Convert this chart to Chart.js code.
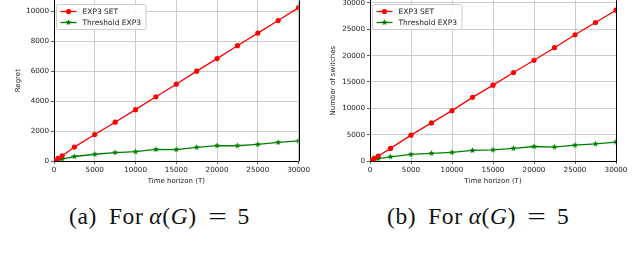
<!DOCTYPE html>
<html>
<head>
<meta charset="utf-8">
<script src="https://cdn.jsdelivr.net/npm/chart.js@4.4.0/dist/chart.umd.min.js"></script>
<style>
  body { margin: 0; background: #fff; width: 640px; height: 265px; overflow: hidden; position: relative; }
  .box { position: absolute; top: -6px; height: 196px; }
  #boxA { left: 0; width: 312px; }
  #boxB { left: 318px; width: 322px; }
  .cap { position: absolute; top: 203px; font-family: "Liberation Serif", "DejaVu Serif", serif; font-size: 23.5px; color: #111; white-space: nowrap; letter-spacing: 0.6px; }
  .cap i { font-style: italic; }
  .eq { display: inline-block; transform: scaleX(1.4); margin: 0 4px; }
  .g1 { margin-left: 12px; } .g2 { margin-left: 6px; } .g3 { margin-left: 10px; } .g4 { margin-left: 9px; }
</style>
</head>
<body>
<div class="box" id="boxA"><canvas id="chartA"></canvas></div>
<div class="box" id="boxB"><canvas id="chartB"></canvas></div>
<div class="cap" style="left:69px">(a)<span class="g1">For</span><span class="g2"><i>α</i>(<i>G</i>)</span><span class="g3"><span class="eq">=</span></span><span class="g4">5</span></div>
<div class="cap" style="left:387px">(b)<span class="g1">For</span><span class="g2"><i>α</i>(<i>G</i>)</span><span class="g3"><span class="eq">=</span></span><span class="g4">5</span></div>

<script>
// time horizons (T) where the runs were measured
const horizon = [100, 500, 1000, 2500, 5000, 7500, 10000, 12500, 15000, 17500, 20000, 22500, 25000, 27500, 30000];

// (a) regret
const regretSet = [35, 170, 340, 930, 1770, 2590, 3430, 4290, 5130, 6000, 6840, 7700, 8540, 9380, 10240];
const regretThr = [20, 80, 130, 300, 450, 560, 620, 770, 760, 910, 1020, 1020, 1110, 1240, 1340];

// (b) number of switches
const switchSet = [95, 480, 950, 2390, 4910, 7230, 9560, 12080, 14400, 16790, 19120, 21510, 23960, 26290, 28620];
const switchThr = [50, 250, 450, 800, 1250, 1450, 1630, 2000, 2100, 2400, 2750, 2650, 3000, 3250, 3600];

const xTicks = [0, 5000, 10000, 15000, 20000, 25000, 30000];
const yTicksA = [0, 2000, 4000, 6000, 8000, 10000];
const yTicksB = [0, 5000, 10000, 15000, 20000, 25000, 30000];

const seriesNames = ['EXP3 SET', 'Threshold EXP3'];

// filled star marker (matplotlib '*')
function starMarker(color, r) {
  const c = document.createElement('canvas');
  const s = Math.ceil(r * 2 + 2);
  c.width = s; c.height = s;
  const g = c.getContext('2d');
  g.fillStyle = color;
  g.beginPath();
  for (let i = 0; i < 10; i++) {
    const rad = i % 2 === 0 ? r : r * 0.45;
    const a = -Math.PI / 2 + i * Math.PI / 5;
    const px = s / 2 + rad * Math.cos(a), py = s / 2 + rad * Math.sin(a);
    i === 0 ? g.moveTo(px, py) : g.lineTo(px, py);
  }
  g.closePath();
  g.fill();
  return c;
}
const greenStar = starMarker('#008000', 3.2);

const pts = vals => horizon.map((t, i) => ({ x: t, y: vals[i] }));

// right spine + matplotlib style legend box
const framePlugin = {
  id: 'frame',
  afterDatasetsDraw(chart) {
    const { ctx, chartArea: a } = chart;
    ctx.save();
    ctx.strokeStyle = '#000';
    ctx.lineWidth = 1;
    ctx.beginPath();
    ctx.moveTo(Math.round(a.right) + 0.5, a.top);
    ctx.lineTo(Math.round(a.right) + 0.5, a.bottom);
    ctx.stroke();

    ctx.font = '7.5px "DejaVu Sans"';
    const tw = Math.max(...seriesNames.map(n => ctx.measureText(n).width));
    const bx = a.left + 2.5, by = 6 + 4.5, bw = 26 + tw + 5, bh = 25;
    ctx.fillStyle = 'rgba(255,255,255,0.85)';
    ctx.strokeStyle = '#cccccc';
    ctx.beginPath();
    ctx.roundRect(bx, by, bw, bh, 2);
    ctx.fill();
    ctx.stroke();

    chart.data.datasets.forEach((ds, i) => {
      const y = by + 7 + i * 11;
      ctx.strokeStyle = ds.borderColor;
      ctx.lineWidth = 1.3;
      ctx.beginPath();
      ctx.moveTo(bx + 4, y);
      ctx.lineTo(bx + 20, y);
      ctx.stroke();
      if (i === 0) {
        ctx.fillStyle = ds.borderColor;
        ctx.beginPath();
        ctx.arc(bx + 12, y, 2.6, 0, Math.PI * 2);
        ctx.fill();
      } else {
        ctx.drawImage(greenStar, bx + 12 - greenStar.width / 2, y - greenStar.height / 2);
      }
      ctx.fillStyle = '#222';
      ctx.textBaseline = 'middle';
      ctx.fillText(ds.label, bx + 26, y + 0.5);
    });
    ctx.restore();
  }
};

function makeChart(id, setVals, thrVals, yMax, yTicks, yTitle, padLeft, yWidth, padRight) {
  const tickFont = { family: 'DejaVu Sans', size: 7.2 };
  const titleFont = { family: 'DejaVu Sans', size: 7 };
  return new Chart(document.getElementById(id), {
    type: 'line',
    data: {
      datasets: [
        {
          label: seriesNames[0], data: pts(setVals),
          borderColor: '#ff0000', backgroundColor: '#ff0000',
          borderWidth: 1.3, pointRadius: 2.6, pointStyle: 'circle',
          pointBorderWidth: 0
        },
        {
          label: seriesNames[1], data: pts(thrVals),
          borderColor: '#008000', backgroundColor: '#008000',
          borderWidth: 1.3, pointStyle: greenStar, pointRadius: 3
        }
      ]
    },
    options: {
      responsive: true,
      maintainAspectRatio: false,
      animation: false,
      layout: { padding: { top: 0, right: padRight, left: padLeft, bottom: 5 } },
      plugins: { legend: { display: false }, tooltip: { enabled: false } },
      scales: {
        x: {
          type: 'linear', min: 0, max: 30000,
          afterBuildTicks: s => { s.ticks = xTicks.map(v => ({ value: v })); },
          afterFit: s => { s.height = 24; },
          ticks: { font: tickFont, color: '#222', padding: 2, maxRotation: 0, callback: v => String(v) },
          grid: { color: '#c0c0c0', lineWidth: 0.8, tickLength: 3, tickColor: '#333' },
          border: { color: '#000', width: 1 },
          title: { display: true, text: 'Time horizon (T)', font: titleFont, color: '#222', padding: { top: 1, bottom: 0 } }
        },
        y: {
          min: 0, max: yMax,
          afterBuildTicks: s => { s.ticks = yTicks.map(v => ({ value: v })); },
          afterFit: s => { s.width = yWidth; },
          ticks: { font: tickFont, color: '#222', padding: 2, callback: v => String(v) },
          grid: { color: '#c0c0c0', lineWidth: 0.8, tickLength: 3, tickColor: '#333' },
          border: { color: '#000', width: 1 },
          title: { display: true, text: yTitle, font: titleFont, color: '#222', padding: { top: 0, bottom: 2 } }
        }
      }
    },
    plugins: [framePlugin]
  });
}

makeChart('chartA', regretSet, regretThr, 10730, yTicksA, 'Regret', 14, 40, 13);
makeChart('chartB', switchSet, switchThr, 30500, yTicksB, 'Number of switches', 11, 41, 24);
</script>
</body>
</html>
